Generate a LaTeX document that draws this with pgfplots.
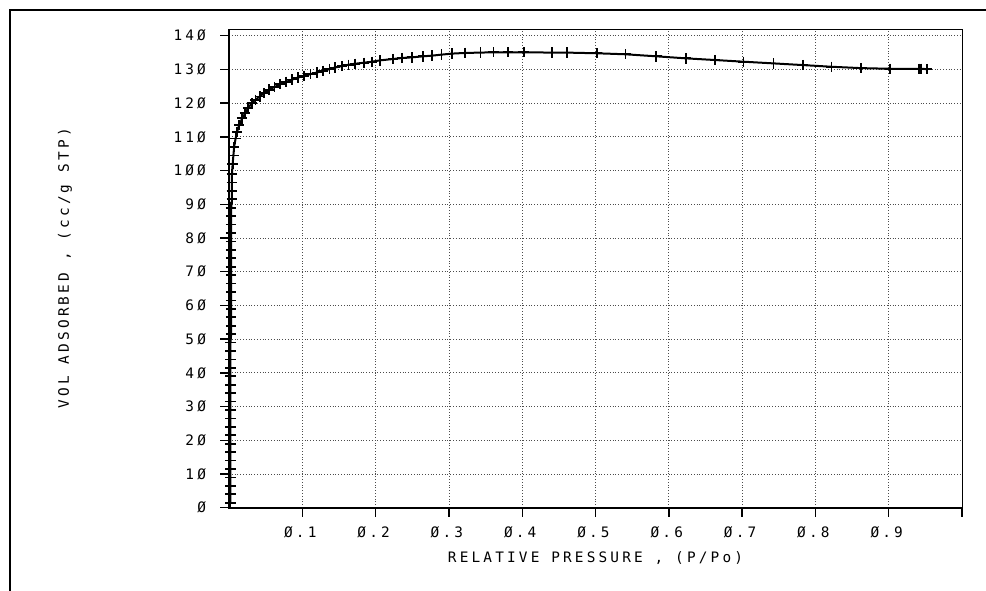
\documentclass[border=0pt]{standalone}
\usepackage{pgfplots}
\pgfplotsset{compat=1.18}
\usepackage{fontspec}
\newfontfamily\plotter[LetterSpace=22]{DejaVu Sans Mono}
\newcommand{\pf}{\plotter\fontsize{7.2}{8.5}\selectfont}

% isotherm: relative pressure vs volume adsorbed
\pgfplotstableread{
x y
0.002 1.5
0.002 4
0.002 6.5
0.002 9
0.002 11.5
0.002 14
0.002 16.5
0.002 19
0.002 21.5
0.002 24
0.002 26.5
0.002 29
0.002 31.5
0.002 34
0.002 36.5
0.002 39
0.002 41.5
0.002 44
0.002 46.5
0.002 49
0.003 51.5
0.003 54
0.003 56.5
0.003 59
0.003 61.5
0.003 64
0.003 66.5
0.003 69
0.003 71.5
0.003 74
0.003 76.5
0.003 79
0.003 81.5
0.003 84
0.003 86.5
0.003 89
0.004 91.5
0.004 94
0.004 96.5
0.004 99
0.005 102
0.006 104.5
0.007 107
0.009 109.5
0.011 111.5
0.014 113.5
0.018 115.5
0.022 117
0.026 118.5
0.031 120
0.036 121
0.042 122
0.048 123
0.055 124
0.062 124.8
0.070 125.6
0.078 126.3
0.086 127
0.094 127.6
0.102 128.1
0.111 128.6
0.120 129.1
0.128 129.6
0.137 130.1
0.145 130.6
0.154 131
0.163 131.4
0.172 131.7
0.184 132
0.195 132.3
0.206 132.7
0.224 133.1
0.236 133.4
0.250 133.6
0.265 133.9
0.277 134.1
0.290 134.4
0.304 134.7
0.322 134.9
0.343 135
0.361 135.1
0.381 135.1
0.402 135.1
0.441 135
0.461 135
0.502 134.8
0.541 134.5
0.583 133.9
0.623 133.3
0.663 132.8
0.702 132.3
0.743 131.8
0.783 131.3
0.822 130.8
0.862 130.4
0.902 130.2
0.941 130.2
0.944 130.2
0.952 130.1
}\iso

\begin{document}
\begin{tikzpicture}
\path[use as bounding box] (0,0) rectangle (493pt,-295pt);
\draw[line width=1.3pt] (5pt,-296pt) -- (5pt,-5pt) -- (494pt,-5pt);
\begin{axis}[
	scale only axis,
	width=366.5pt, height=239.35pt,
	at={(114.5pt,-253.85pt)}, anchor=south west,
	xmin=0, xmax=1.0, ymin=0, ymax=142,
	xtick={0.1,0.2,...,1.0},
	xticklabels={Ø.1,Ø.2,Ø.3,Ø.4,Ø.5,Ø.6,Ø.7,Ø.8,Ø.9,},
	ytick={0,10,...,140},
	yticklabels={Ø,1Ø,2Ø,3Ø,4Ø,5Ø,6Ø,7Ø,8Ø,9Ø,1ØØ,11Ø,12Ø,13Ø,14Ø},
	tick align=outside,
	major tick length=4.5pt,
	xtick pos=bottom, ytick pos=left,
	every tick/.style={black, line width=0.7pt},
	tick label style={font=\pf},
	xticklabel style={yshift=-1.5pt, xshift=-1pt},
	yticklabel style={xshift=-3.5pt},
	grid=major,
	major grid style={densely dotted, black!70, line width=0.4pt},
	axis line style={line width=0.5pt},
	xlabel={RELATIVE PRESSURE , (P/Po)},
	ylabel={VOL ADSORBED , (cc/g STP)},
	label style={font=\pf},
	xlabel style={at={(axis description cs:0.5,-0.105)}, anchor=center},
	ylabel style={at={(axis description cs:-0.2237,0.5)}, anchor=center},
	clip=false]
	\addplot[black, line width=1pt, mark=+, mark size=2.6pt,
		mark options={line width=0.85pt}] table {\iso};
	\draw[line width=1pt] (rel axis cs:0,1) -- (rel axis cs:0,0) -- (rel axis cs:1,0);
\end{axis}
\end{tikzpicture}
\end{document}
